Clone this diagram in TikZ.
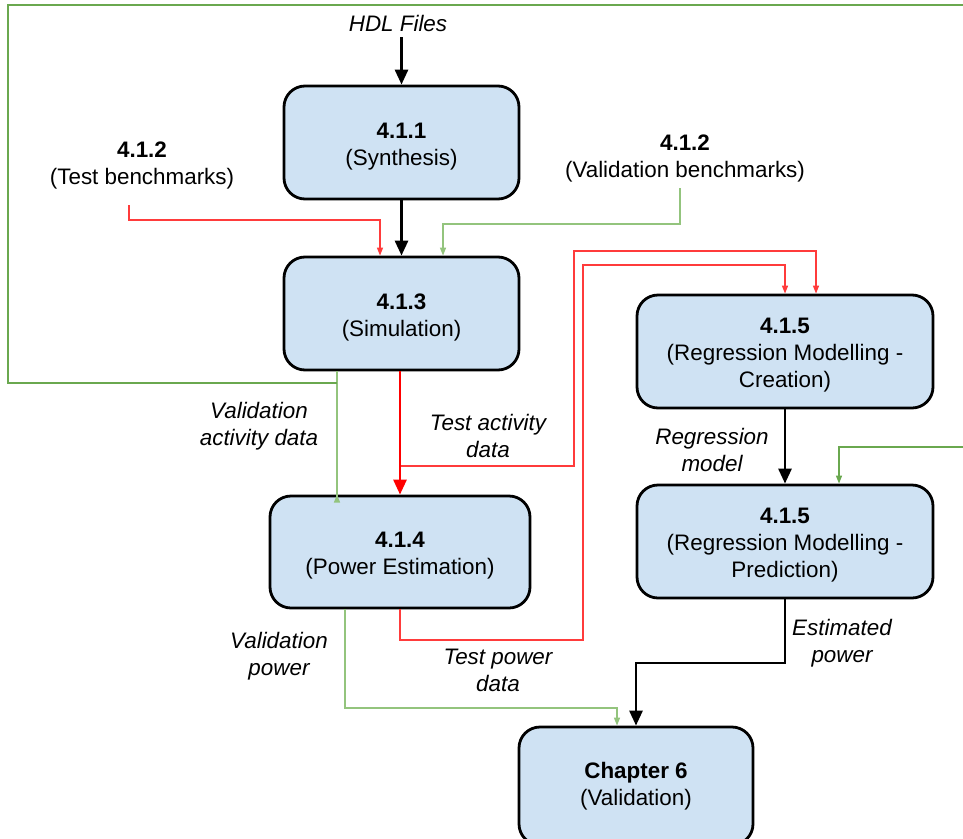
\documentclass[tikz,border=0pt]{standalone}
\usepackage{fontspec}
\setmainfont{Liberation Sans}
\usetikzlibrary{arrows.meta}
\definecolor{boxfill}{HTML}{CFE2F3}
\definecolor{gdark}{HTML}{6AA84F}
\definecolor{glight}{HTML}{93C47D}
\definecolor{rline}{HTML}{FF3B3B}
\begin{document}
\begin{tikzpicture}[x=1pt,y=-1pt,
  every node/.style={font=\fontsize{22.4}{27}\selectfont, align=center, inner sep=0pt},
  stage/.style={draw=black, line width=2.8pt, fill=boxfill, rounded corners=21pt},
  stagetxt/.style={yshift=-4pt},
  lbl/.style={font=\fontsize{22.4}{27}\selectfont\itshape},
  blk/.style={draw=black, line width=2.8pt, -{Triangle[width=13pt,length=15pt]}},
  rthick/.style={draw=red, line width=2.8pt, -{Triangle[width=13pt,length=15pt]}},
  rthin/.style={draw=rline, line width=1.4pt, -{Triangle[width=6pt,length=8pt]}},
  gthin/.style={draw=glight, line width=1.4pt, -{Triangle[width=6pt,length=8pt]}},
  gdthin/.style={draw=gdark, line width=1.4pt, -{Triangle[width=6pt,length=8pt]}}]
\useasboundingbox (0,0) rectangle (963,838);
\clip (0,0) rectangle (963,838);

% process boxes
\node[stage, minimum width=235pt, minimum height=113pt] (syn) at (401.5,142.5) {};
\node[stage, minimum width=235pt, minimum height=113pt] (sim) at (401.5,313.5) {};
\node[stage, minimum width=260pt, minimum height=112pt] (pow) at (400,552) {};
\node[stage, minimum width=296pt, minimum height=113pt] (cre) at (785,351.5) {};
\node[stage, minimum width=296pt, minimum height=113pt] (pre) at (785,541.5) {};
\node[stage, minimum width=234pt, minimum height=118pt] (ch6) at (636,786) {};

% box captions
\node[stagetxt] (syn-t) at (syn) {\textbf{4.1.1}\\(Synthesis)};
\node[stagetxt] (sim-t) at (sim) {\textbf{4.1.3}\\(Simulation)};
\node[stagetxt] (pow-t) at (pow) {\textbf{4.1.4}\\(Power Estimation)};
\node[stagetxt] (cre-t) at (cre) {\textbf{4.1.5}\\(Regression Modelling -\\Creation)};
\node[stagetxt] (pre-t) at (pre) {\textbf{4.1.5}\\(Regression Modelling -\\Prediction)};
\node[stagetxt] (ch6-t) at ([yshift=4pt]ch6) {\textbf{Chapter 6}\\(Validation)};

% inputs
\node[lbl] (hdl) at (398,23) {HDL Files};
\node (tb) at (142,165.5) {\textbf{4.1.2}\\(Test benchmarks)};
\node (vb) at (685,158.5) {\textbf{4.1.2}\\(Validation benchmarks)};
\coordinate (tbout) at (129,205);
\coordinate (vbout) at (680,188);

% connector labels
\node[lbl] (lva) at (259,426) {Validation\\activity data};
\node[lbl] (lta) at (488,436) {Test activity\\data};
\node[lbl] (lrm) at (712,450) {Regression\\model};
\node[lbl] (lep) at (842,643) {Estimated\\power};
\node[lbl] (lvp) at (279,656) {Validation\\power};
\node[lbl] (ltp) at (498,670) {Test power\\data};

% main flow
\draw[blk] (syn.north |- hdl.south) ++(0,6) -- (syn.north);
\draw[blk] (syn.south) -- (sim.north);
\draw[blk] (cre.south) -- (pre.north);
\draw[blk] (pre.south) -- (785,663) -- (636,663) -- (ch6.north);

% benchmark inputs
\draw[rthin] (tbout) -- (129,220) -- (380,220) -- ([xshift=-21.5pt]sim.north);
\draw[gthin] (vbout) -- (680,224) -- (443,224) -- ([xshift=41.5pt]sim.north);

% activity data
\draw[rthick] (sim.south -| pow.north) -- (pow.north);
\draw[gthin] ([xshift=-64.5pt]sim.south) -- (337,496) -- ([xshift=-63pt]pow.north);
\draw[rthin] (401,466) -- (574,466) -- (574,251) -- (816,251) -- ([xshift=31pt]cre.north);

% validation loop round the diagram into the prediction stage
\draw[gdthin] (337,383) -- (8,383) -- (8,5) -- (980,5) -- (980,447) -- (839,447) -- ([xshift=54pt]pre.north);

% power data
\draw[rthin] (pow.south) -- (400,640) -- (583,640) -- (583,265) -- (785,265) -- (cre.north);
\draw[gthin] ([xshift=-55pt]pow.south) -- (345,708) -- (617,708) -- ([xshift=-19pt]ch6.north);
\end{tikzpicture}
\end{document}
